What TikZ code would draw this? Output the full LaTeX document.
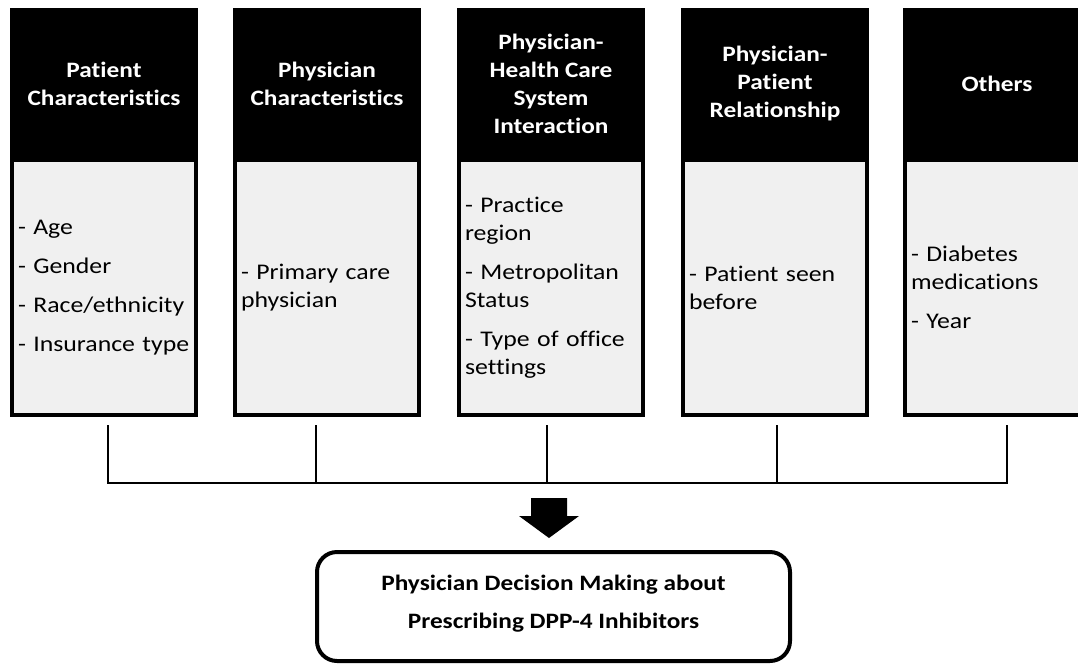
\documentclass[tikz,border=0pt]{standalone}
\usepackage{fontspec}
\setmainfont{Carlito}[FakeStretch=1.15,Ligatures=NoCommon]
\definecolor{boxgray}{HTML}{F0F0F0}
\begin{document}
\begin{tikzpicture}[x=1pt,y=-1pt,
  hdr/.style={fill=black,text=white,font=\bfseries\fontsize{22}{28}\selectfont,
    align=center,minimum width=188,minimum height=152,inner sep=0pt},
  bodybox/.style={draw=black,line width=4pt,fill=boxgray,minimum width=184,
    minimum height=255,text width=172,inner xsep=6pt,inner ysep=0pt,align=left,
    font=\fontsize{22.4}{28}\selectfont},
  conn/.style={line width=2.6pt},
  decbox/.style={draw=black,line width=4pt,rounded corners=20pt,minimum width=473,
    minimum height=109},
  dectext/.style={font=\bfseries\fontsize{22}{38}\selectfont,align=center}]
\useasboundingbox (0,0) rectangle (1078,664);
% body boxes
\node[bodybox] (b1) at (104,287.5) {- Age\\[11pt]- Gender\\[11pt]- Race/ethnicity\\[11pt]\mbox{- Insurance type}};
\node[bodybox] (b2) at (327,287.5) {- Primary care\\physician};
\node[bodybox] (b3) at (551,287.5) {- Practice\\region\\[11pt]- Metropolitan\\Status\\[11pt]- Type of office\\settings};
\node[bodybox] (b4) at (775,287.5) {- Patient seen\\before};
\node[bodybox] (b5) at (997,287.5) {- Diabetes\\medications\\[11pt]- Year};
% headers
\node[hdr] (h1) at (104,84) {Patient\\Characteristics};
\node[hdr] (h2) at (327,84) {Physician\\Characteristics};
\node[hdr] (h3) at (551,84) {Physician-\\Health Care\\System\\Interaction};
\node[hdr] (h4) at (775,84) {Physician-\\Patient\\Relationship};
\node[hdr] (h5) at (997,84) {Others};
% connector coordinates
\coordinate (c1) at (108,425);
\coordinate (c2) at (316,425);
\coordinate (c3) at (547,425);
\coordinate (c4) at (777,425);
\coordinate (c5) at (1007,425);
\coordinate (j1) at (108,483);
\coordinate (j5) at (1007,483);
\draw[conn] (c1) -- (j1) -- (j5) -- (c5);
\draw[conn] (c2) -- (c2 |- j1);
\draw[conn] (c3) -- (c3 |- j1);
\draw[conn] (c4) -- (c4 |- j1);
% block arrow
\fill[black] (531,498) -- (567,498) -- (567,516) -- (579,516) -- (549,538)
  -- (519,516) -- (531,516) -- cycle;
% decision box
\node[decbox] (dec) at (553.5,606.5) {};
\node[dectext] (dect) at (553.5,603.5) {Physician Decision Making about\\Prescribing DPP-4 Inhibitors};
\end{tikzpicture}
\end{document}
